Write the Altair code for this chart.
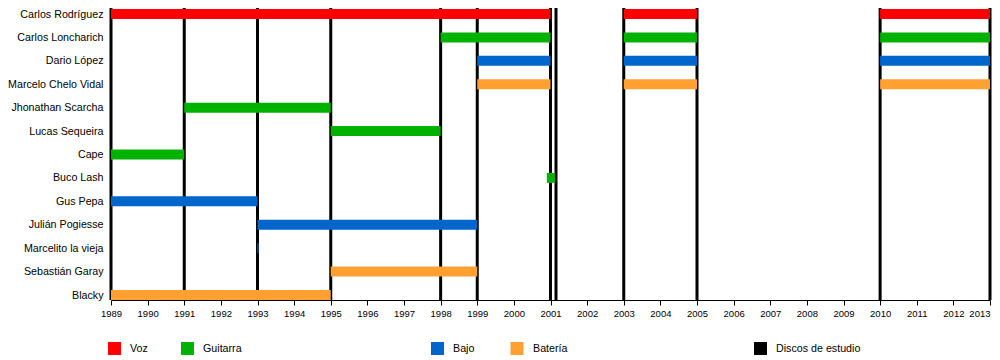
import altair as alt
import pandas as pd

# ---- data ----
members = ["Carlos Rodríguez", "Carlos Loncharich", "Dario López", "Marcelo Chelo Vidal",
           "Jhonathan Scarcha", "Lucas Sequeira", "Cape", "Buco Lash", "Gus Pepa",
           "Julián Pogiesse", "Marcelito la vieja", "Sebastián Garay", "Blacky"]

bar_member = ["Carlos Rodríguez", "Carlos Rodríguez", "Carlos Rodríguez",
              "Carlos Loncharich", "Carlos Loncharich", "Carlos Loncharich",
              "Dario López", "Dario López", "Dario López",
              "Marcelo Chelo Vidal", "Marcelo Chelo Vidal", "Marcelo Chelo Vidal",
              "Jhonathan Scarcha", "Lucas Sequeira", "Cape", "Buco Lash", "Gus Pepa",
              "Julián Pogiesse", "Marcelito la vieja", "Sebastián Garay", "Blacky"]
bar_start = [1989, 2003, 2010, 1998, 2003, 2010, 1999, 2003, 2010, 1999, 2003, 2010,
             1991, 1995, 1989, 2000.9, 1989, 1993, 1993, 1995, 1989]
bar_end = [2001, 2005, 2013, 2001, 2005, 2013, 2001, 2005, 2013, 2001, 2005, 2013,
           1995, 1998, 1991, 2001.12, 1993, 1999, 1993.03, 1999, 1995]
bar_role = ["Voz", "Voz", "Voz", "Guitarra", "Guitarra", "Guitarra", "Bajo", "Bajo", "Bajo",
            "Batería", "Batería", "Batería", "Guitarra", "Guitarra", "Guitarra", "Guitarra",
            "Bajo", "Bajo", "Bajo", "Batería", "Batería"]

albums = [1989, 1991, 1993, 1995, 1998, 1999, 2001, 2001.15, 2003, 2005, 2010, 2013]
years = list(range(1989, 2014))

roles = ["Voz", "Guitarra", "Bajo", "Batería", "Discos de estudio"]
role_colors = ["#FF0000", "#00B200", "#0066CC", "#FFA030", "#000000"]

# ---- layout (pixels, not data) ----
W, H = 879, 292
LEGEND_SQ_X = [3.5, 76.5, 326.5, 406, 649.5]
LEGEND_TXT_X = [19, 92, 342, 422, 665]
LEGEND_Y = 340.5

bars = pd.DataFrame({"member": bar_member, "start": bar_start, "end": bar_end, "role": bar_role})
alb = pd.DataFrame({"year": albums})
leg = pd.DataFrame({"role": roles, "sx": LEGEND_SQ_X, "tx": LEGEND_TXT_X})

font = "Liberation Sans"
xscale = alt.Scale(domain=[1989, 2013], nice=False, zero=False)
color_scale = alt.Scale(domain=roles, range=role_colors)
xaxis = alt.Axis(values=years, format="d", title=None, grid=False,
                 domainColor="#000", tickColor="#000", tickSize=5,
                 labelFont=font, labelFontSize=9.5, labelColor="#000",
                 labelPadding=3, labelOverlap=False, labelFlush=False,
                 labelAlign=alt.expr("datum.value == 2013 ? 'right' : 'center'"))

album_layer = alt.Chart(alb).mark_rule(strokeWidth=3, color="#000").encode(
    x=alt.X("year:Q", scale=xscale, axis=xaxis),
    y=alt.value(0), y2=alt.value(H),
)

bar_layer = alt.Chart(bars).mark_rule(strokeWidth=10, strokeCap="butt").encode(
    x=alt.X("start:Q", scale=xscale, axis=xaxis),
    x2="end:Q",
    y=alt.Y("member:N", sort=members,
            scale=alt.Scale(type="point", range=[6, 287], padding=0),
            axis=alt.Axis(title=None, domain=False, ticks=False, tickSize=0, grid=False,
                          labelFont=font, labelFontSize=10.7, labelColor="#000",
                          labelPadding=8)),
    color=alt.Color("role:N", scale=color_scale, legend=None),
)

leg_sq = alt.Chart(leg).mark_square(size=169, opacity=1, filled=True).encode(
    x=alt.X("sx:Q", scale=None), y=alt.value(LEGEND_Y),
    color=alt.Color("role:N", scale=color_scale, legend=None),
)
leg_txt = alt.Chart(leg).mark_text(align="left", baseline="middle", font=font,
                                   fontSize=10.7, color="#000").encode(
    x=alt.X("tx:Q", scale=None), y=alt.value(LEGEND_Y), text="role:N",
)

chart = alt.layer(album_layer, bar_layer, leg_sq, leg_txt).properties(
    width=W, height=H,
    autosize=alt.AutoSizeParams(type="none"),
    padding={"left": 103, "top": 0, "right": 2, "bottom": 55},
).configure(background="white").configure_view(stroke=None)

chart.save("out.html", embed_options={"renderer": "svg", "actions": False})
